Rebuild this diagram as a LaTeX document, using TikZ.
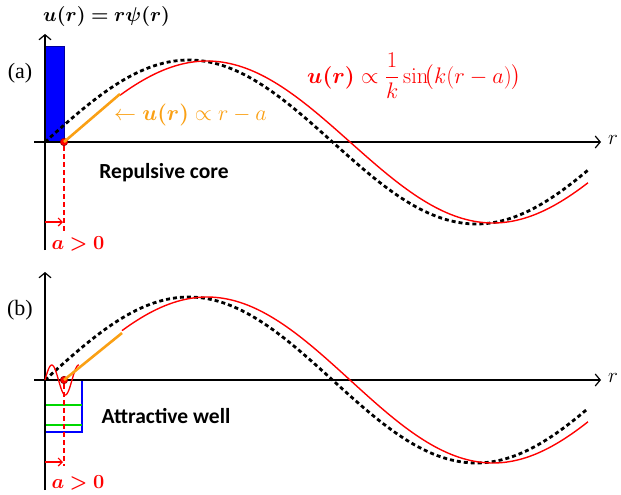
\RequirePackage{fix-cm}
\documentclass[tikz,border=0pt]{standalone}
\usepackage{amsmath}
\usepackage{bm}
\usepackage[no-math]{fontspec}
\setmainfont{Liberation Serif}
\newfontfamily\calibrifont{Carlito}
\usetikzlibrary{arrows.meta}
\definecolor{myred}{RGB}{255,0,0}
\definecolor{myorange}{RGB}{250,160,20}
\definecolor{myblue}{RGB}{0,0,255}
\definecolor{mygreen}{RGB}{0,215,0}
\tikzset{
  axis/.style={line width=1.2pt,-{Straight Barb[length=5pt,width=12pt,line width=1.2pt]}},
  blackdash/.style={line width=2.8pt,dash pattern=on 4pt off 3pt},
  redcurve/.style={myred,line width=1.4pt},
  orangeline/.style={myorange,line width=2.6pt},
  reddash/.style={myred,line width=1.2pt,dash pattern=on 5pt off 3pt},
  redarrow/.style={myred,line width=1.2pt,-{Straight Barb[length=4pt,width=8pt,line width=1.2pt]}},
  reddot/.style={circle,fill=myred,draw={rgb,255:red,150;green,0;blue,0},line width=0.6pt,inner sep=0pt,minimum size=7.5pt},
  lbl/.style={inner sep=1pt},
  sanslbl/.style={font=\calibrifont\bfseries\fontsize{21.5}{24}\selectfont,inner sep=1pt},
}
\begin{document}
\begin{tikzpicture}[x=1pt,y=-1pt]
\useasboundingbox (0,0) rectangle (621,495);
% ---------------- panel (a)
\fill[myblue] (45,46) rectangle (64,142);
\draw[blue!60!black,line width=0.6pt] (45,46) rectangle (64,142);
\coordinate (ay0) at (45,250);
\coordinate (ay1) at (45,34);
\coordinate (ax0) at (34,142);
\coordinate (ax1) at (601,142);
\draw[axis] (ay0) -- (ay1);
\draw[axis] (ax0) -- (ax1);
\draw[blackdash] plot[domain=45:588,samples=120] (\x,{142-82*sin((\x-45)/575*360)});
\draw[redcurve] plot[domain=120:588,samples=120] (\x,{142-81*sin((\x-64)/572*360)});
\node[reddot] (adot) at (64,142) {};
\coordinate (aorange) at (120,94);
\draw[orangeline] (adot.center) -- (aorange);
\coordinate (avb) at (64,232);
\draw[reddash] (adot.south) -- (avb);
\coordinate (ara) at (45,222);
\coordinate (arb) at (63,222);
\draw[redarrow] (ara) -- (arb);
\node[lbl,text=myred] (agt) at (78,244) {\fontsize{20}{22}\selectfont$\bm{a>0}$};
\node[lbl,anchor=west] (ulab) at (42,17) {\fontsize{20}{24}\selectfont$\bm{u(r)=r\psi(r)}$};
\node[lbl] (alab) at (20,73) {\fontsize{22}{24}\selectfont(a)};
\node[lbl] (ar) at (613,140) {\fontsize{21}{22}\selectfont$r$};
\node[lbl,text=myred,anchor=west] (aform) at (306,76) {\fontsize{22.5}{26}\selectfont$\bm{u(r)}\propto\dfrac{1}{k}\sin\!\bigl(k(r-a)\bigr)$};
\node[lbl,text=myorange,anchor=west] (aolab) at (113,115) {\fontsize{22}{24}\selectfont$\leftarrow\bm{u(r)}\propto r-a$};
\node[sanslbl] (core) at (164,173) {Repulsive core};
% ---------------- panel (b)
\coordinate (by0) at (45,490);
\coordinate (by1) at (45,272);
\coordinate (bx0) at (34,380);
\coordinate (bx1) at (601,380);
\draw[myblue,line width=1.2pt] (45,380) -- (82,380) -- (82,432) -- (45,432);
\draw[mygreen,line width=1.4pt] (45,405) -- (82,405);
\draw[mygreen,line width=1.4pt] (45,425) -- (82,425);
\draw[axis] (by0) -- (by1);
\draw[axis] (bx0) -- (bx1);
\draw[blackdash] plot[domain=45:588,samples=120] (\x,{380-83*sin((\x-45)/575*360)});
\draw[redcurve] plot[domain=122:588,samples=120] (\x,{380-83*sin((\x-64)/572*360)});
\draw[myred,line width=1.3pt] plot[domain=45:79,samples=50,smooth] (\x,{380-15*sin((\x-45)/13.5*180)});
\node[reddot] (bdot) at (64,380) {};
\coordinate (borange) at (122,333);
\draw[orangeline] (bdot.center) -- (borange);
\coordinate (bvb) at (64,466);
\draw[reddash] (bdot.south) -- (bvb);
\coordinate (bra) at (45,462);
\coordinate (brb) at (63,462);
\draw[redarrow] (bra) -- (brb);
\node[lbl,text=myred] (bgt) at (78,483) {\fontsize{20}{22}\selectfont$\bm{a>0}$};
\node[lbl] (blab) at (20,310) {\fontsize{22}{24}\selectfont(b)};
\node[lbl] (br) at (613,378) {\fontsize{21}{22}\selectfont$r$};
\node[sanslbl] (well) at (166,416) {Attractive well};
\end{tikzpicture}
\end{document}
